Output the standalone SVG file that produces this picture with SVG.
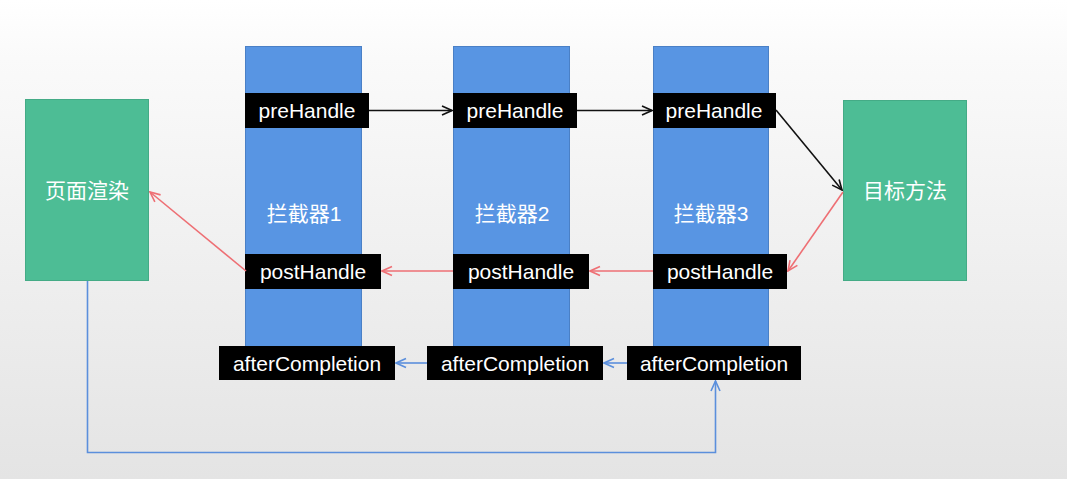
<svg xmlns="http://www.w3.org/2000/svg" width="1067" height="479" viewBox="0 0 1067 479">
  <defs>
    <linearGradient id="bg" x1="0" y1="0" x2="0" y2="1">
      <stop offset="0" stop-color="#ffffff"/>
      <stop offset="0.12" stop-color="#fafafa"/>
      <stop offset="1" stop-color="#e4e4e4"/>
    </linearGradient>
    <marker id="ahBlack" viewBox="0 0 12 12" refX="11" refY="6" markerWidth="12" markerHeight="12" markerUnits="userSpaceOnUse" orient="auto">
      <path d="M1,1.5 L11,6 L1,10.5" fill="none" stroke="#111" stroke-width="1.6"/>
    </marker>
    <marker id="ahRed" viewBox="0 0 12 12" refX="11" refY="6" markerWidth="12" markerHeight="12" markerUnits="userSpaceOnUse" orient="auto">
      <path d="M1,1.5 L11,6 L1,10.5" fill="none" stroke="#ee6f74" stroke-width="1.6"/>
    </marker>
    <marker id="ahBlue" viewBox="0 0 12 12" refX="11" refY="6" markerWidth="12" markerHeight="12" markerUnits="userSpaceOnUse" orient="auto">
      <path d="M1,1.5 L11,6 L1,10.5" fill="none" stroke="#5b8fdc" stroke-width="1.6"/>
    </marker>
  </defs>
  <style>
    .green { fill: #4dbd95; stroke: #44ab86; stroke-width: 1; }
    .col { fill: #5895e3; stroke: #4a80c6; stroke-width: 1; }
    .tag { fill: #000000; }
    .t { font-family: "Liberation Sans", Arial, "Noto Sans CJK SC", sans-serif; font-size: 21px; fill: #ffffff; text-anchor: middle; }
    .blk { fill: none; stroke: #111111; stroke-width: 1.6; marker-end: url(#ahBlack); }
    .red { fill: none; stroke: #ee6f74; stroke-width: 1.6; marker-end: url(#ahRed); }
    .blu { fill: none; stroke: #5b8fdc; stroke-width: 1.6; marker-end: url(#ahBlue); }
  </style>
  <rect x="0" y="0" width="1067" height="479" fill="url(#bg)"/>

  <g id="render">
    <rect class="green" x="25.5" y="99.5" width="123" height="181"/>
    <text class="t" x="87" y="198">页面渲染</text>
  </g>
  <g id="target">
    <rect class="green" x="843.5" y="100.5" width="123" height="180"/>
    <text class="t" x="905" y="198">目标方法</text>
  </g>

  <g id="interceptor1">
    <rect class="col" x="245.5" y="46.5" width="116" height="333"/>
    <text class="t" x="304" y="221">拦截器1</text>
  </g>
  <g id="interceptor2">
    <rect class="col" x="453.5" y="46.5" width="116" height="332"/>
    <text class="t" x="512" y="221">拦截器2</text>
  </g>
  <g id="interceptor3">
    <rect class="col" x="653.5" y="46.5" width="115" height="329"/>
    <text class="t" x="711" y="221">拦截器3</text>
  </g>

  <g id="pre1"><rect class="tag" x="245" y="93" width="124" height="35"/><text class="t" x="307" y="118">preHandle</text></g>
  <g id="pre2"><rect class="tag" x="453" y="93" width="124" height="35"/><text class="t" x="515" y="118">preHandle</text></g>
  <g id="pre3"><rect class="tag" x="653" y="93" width="123" height="35"/><text class="t" x="714" y="118">preHandle</text></g>

  <g id="post1"><rect class="tag" x="245" y="254" width="136" height="35"/><text class="t" x="313" y="279">postHandle</text></g>
  <g id="post2"><rect class="tag" x="453" y="254" width="136" height="35"/><text class="t" x="521" y="279">postHandle</text></g>
  <g id="post3"><rect class="tag" x="653" y="254" width="134" height="35"/><text class="t" x="720" y="279">postHandle</text></g>

  <g id="after1"><rect class="tag" x="219" y="346" width="176" height="34"/><text class="t" x="307" y="371">afterCompletion</text></g>
  <g id="after2"><rect class="tag" x="427" y="346" width="176" height="34"/><text class="t" x="515" y="371">afterCompletion</text></g>
  <g id="after3"><rect class="tag" x="627" y="346" width="174" height="34"/><text class="t" x="714" y="371">afterCompletion</text></g>

  <g id="connectors">
    <line class="blk" x1="369" y1="110.5" x2="452" y2="110.5"/>
    <line class="blk" x1="577" y1="110.5" x2="652" y2="110.5"/>
    <line class="blk" x1="776" y1="110" x2="842" y2="190"/>
    <line class="red" x1="843" y1="192" x2="788" y2="271"/>
    <line class="red" x1="653" y1="271" x2="590" y2="271"/>
    <line class="red" x1="453" y1="271" x2="382" y2="271"/>
    <line class="red" x1="246" y1="271" x2="150" y2="192"/>
    <line class="blu" x1="627" y1="363" x2="604" y2="363"/>
    <line class="blu" x1="427" y1="363" x2="396" y2="363"/>
    <polyline class="blu" points="87.5,281 87.5,452.5 715.5,452.5 715.5,381"/>
  </g>
</svg>
